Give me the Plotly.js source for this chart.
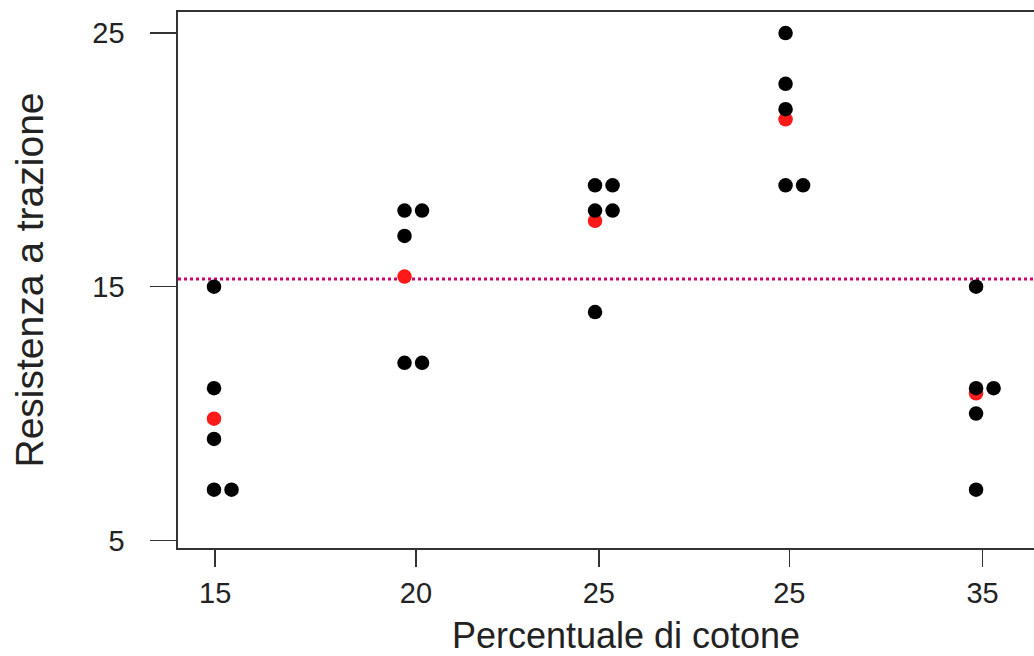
<!DOCTYPE html>
<html>
<head>
<meta charset="utf-8">
<script src="https://cdn.plot.ly/plotly-3.0.1.min.js"></script>
<style>
html,body{margin:0;padding:0;overflow:hidden;background:#fff;}
#chart{width:1074px;height:656px;}
</style>
</head>
<body>
<div id="chart"></div>
<script>
// Data
const groups = [15, 20, 25, 30, 35];
const tickLabels = ["15", "20", "25", "25", "35"];
const tickPos = [15.03, 20.3, 25.1, 30.1, 35.17];
const g15 = [7, 7, 15, 11, 9];
const g20 = [12, 17, 12, 18, 18];
const g25 = [14, 18, 18, 19, 19];
const g30 = [19, 25, 22, 19, 23];
const g35 = [7, 10, 11, 15, 11];
const groupMeans = [9.8, 15.4, 17.6, 21.6, 10.8];
const grandMean = 15.3;

const allGroups = [g15, g20, g25, g30, g35];
const STACK = 0.46; // stacking offset for repeated values (x units)

const px = [], py = [];
allGroups.forEach((vals, i) => {
  const seen = {};
  vals.forEach(v => {
    const k = seen[v] || 0;
    seen[v] = k + 1;
    px.push(groups[i] + k * STACK);
    py.push(v);
  });
});

const txt = '#222';
const font = 'Liberation Sans, Arial, sans-serif';

const traces = [
  {
    x: groups, y: groupMeans, type: 'scatter', mode: 'markers',
    marker: {color: '#ff1a1a', size: 14.5}, hoverinfo: 'x+y', showlegend: false
  },
  {
    x: px, y: py, type: 'scatter', mode: 'markers',
    marker: {color: '#000000', size: 14.5}, hoverinfo: 'x+y', showlegend: false
  }
];

const layout = {
  width: 1074, height: 656,
  margin: {l: 178, r: 0, t: 12, b: 108},
  paper_bgcolor: '#fff', plot_bgcolor: '#fff',
  font: {family: font, color: txt},
  showlegend: false,
  xaxis: {
    range: [14.055, 37.57],
    tickmode: 'array', tickvals: tickPos, ticktext: tickLabels,
    ticks: 'outside', ticklen: 17, tickwidth: 1.5, tickcolor: '#333',
    ticklabelstandoff: 2,
    tickfont: {size: 29, color: txt, family: font},
    showline: true, linecolor: '#333', linewidth: 1.6, mirror: true,
    showgrid: false, zeroline: false,
    title: {text: 'Percentuale di cotone', font: {size: 36, color: txt, family: font}, standoff: 16}
  },
  yaxis: {
    range: [4.70, 25.83],
    tickmode: 'array', tickvals: [5, 15, 25], ticktext: ['5', '15', '25'],
    ticks: 'outside', ticklen: 26, tickwidth: 1.5, tickcolor: '#333',
    ticklabelstandoff: 20,
    tickfont: {size: 29, color: txt, family: font},
    showline: true, linecolor: '#333', linewidth: 1.6, mirror: false,
    showgrid: false, zeroline: false,
    title: {text: 'Resistenza a trazione', font: {size: 39, color: txt, family: font}, standoff: 36}
  },
  shapes: [{
    type: 'line', xref: 'paper', x0: 0, x1: 1, yref: 'y', y0: grandMean, y1: grandMean,
    line: {color: '#d4006c', width: 3, dash: 'dot'}, layer: 'below'
  }]
};

Plotly.newPlot('chart', traces, layout, {displayModeBar: false, staticPlot: true});
</script>
</body>
</html>
